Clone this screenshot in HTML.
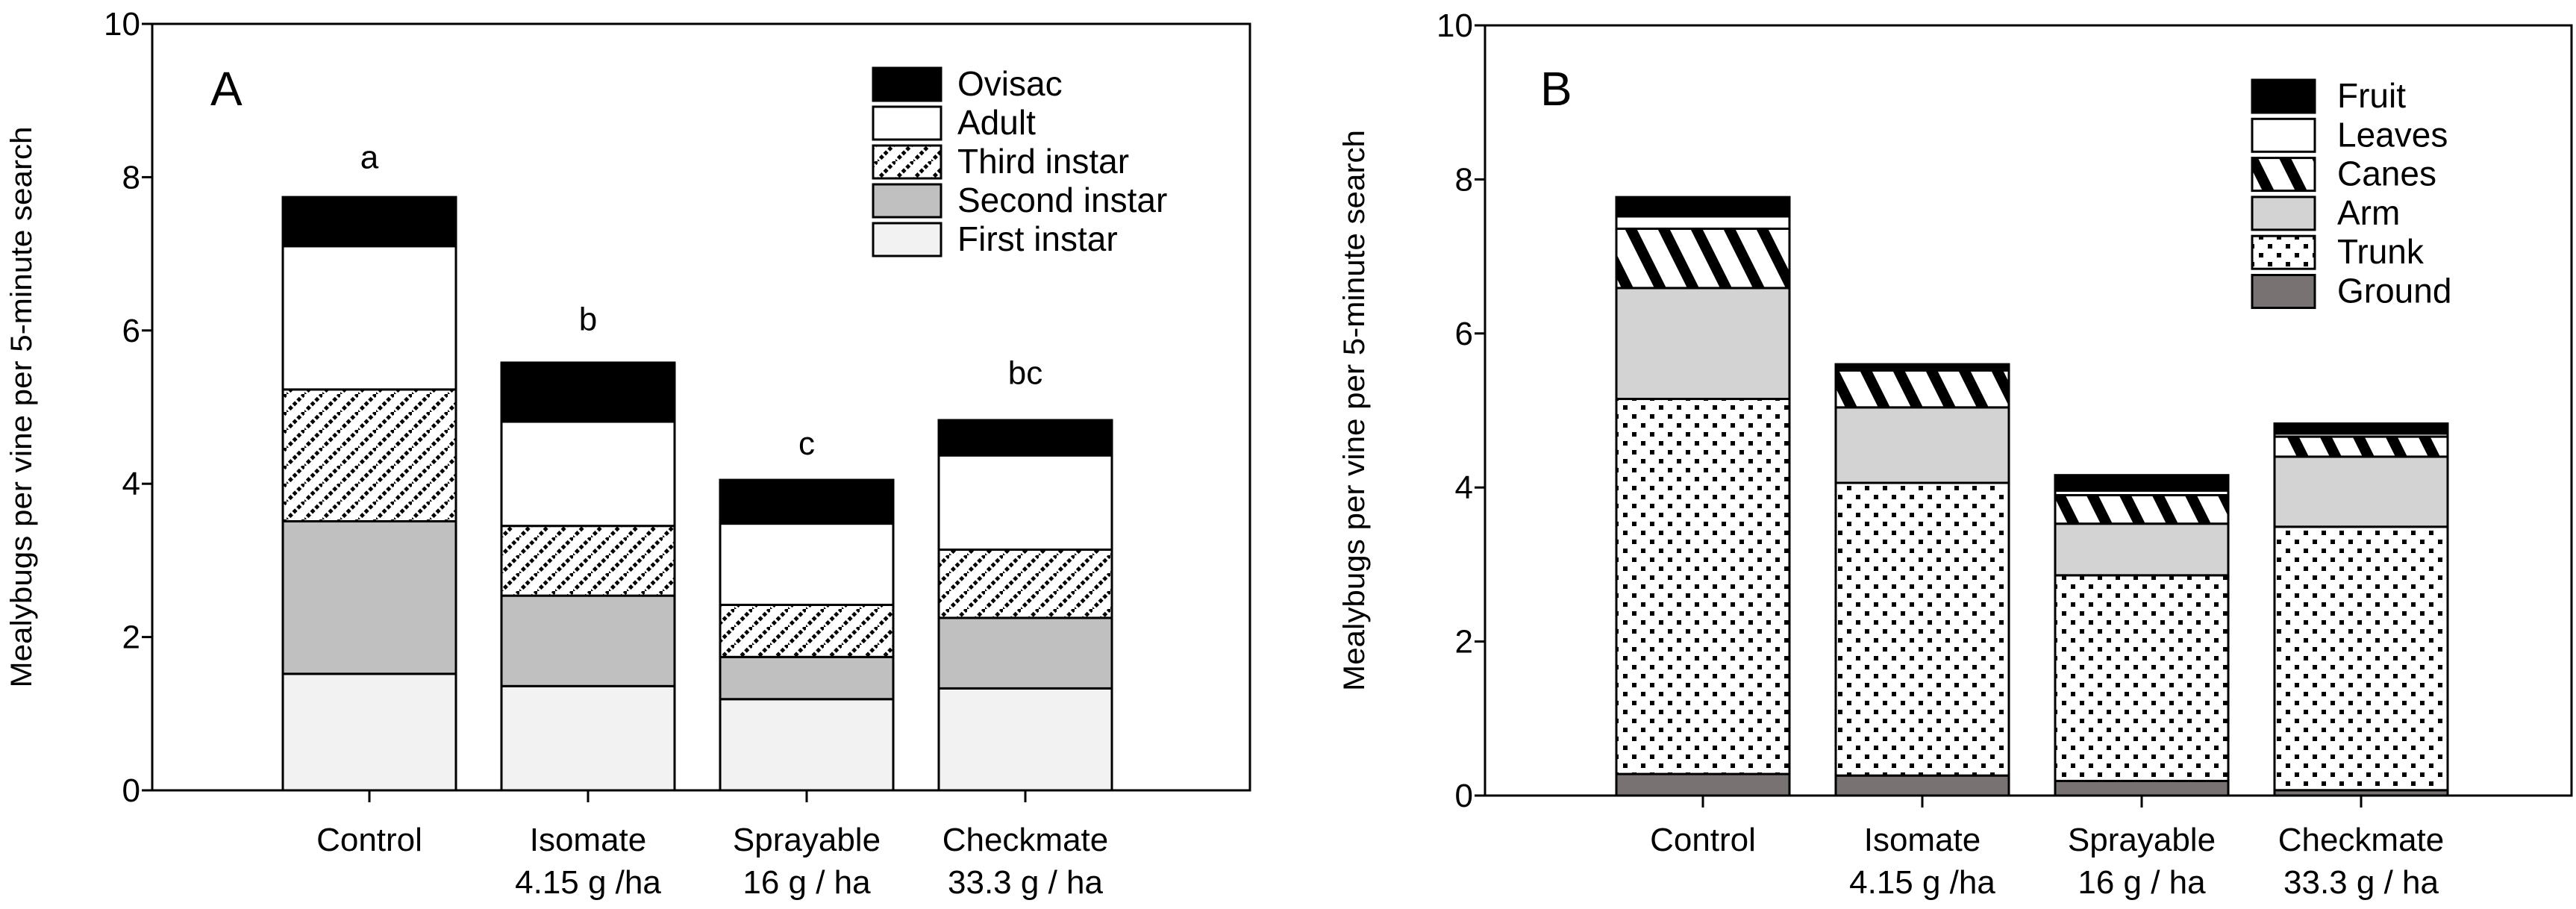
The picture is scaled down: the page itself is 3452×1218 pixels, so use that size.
<!DOCTYPE html>
<html><head><meta charset="utf-8"><style>html,body{margin:0;padding:0;background:#fff}svg{display:block}text{font-family:"Liberation Sans",Arial,sans-serif;fill:#000}</style></head>
<body>
<svg id="c" width="3452" height="1218" viewBox="0 0 3452 1218" xmlns="http://www.w3.org/2000/svg">
<defs>
<pattern id="p-third" width="24" height="24" patternUnits="userSpaceOnUse">
<rect width="24" height="24" fill="#fff"/>
<line x1="-2" y1="26" x2="26" y2="-2" stroke="#000" stroke-width="5" stroke-dasharray="5 3"/>
</pattern>
<pattern id="p-canes" width="44" height="88" patternUnits="userSpaceOnUse">
<rect width="44" height="88" fill="#fff"/>
<polygon points="0,0 16,0 60,88 44,88" fill="#000"/>
<polygon points="-44,0 -28,0 16,88 0,88" fill="#000"/>
</pattern>
<pattern id="p-trunk" width="24" height="24" patternUnits="userSpaceOnUse">
<rect width="24" height="24" fill="#fff"/>
<rect x="3" y="3" width="6" height="6" fill="#000"/>
<rect x="15" y="15" width="6" height="6" fill="#000"/>
</pattern>
</defs>
<g id="gA"></g>
<g id="gB"></g>
</svg>
<script>
const categories = ["Control","Isomate|4.15 g /ha","Sprayable|16 g / ha","Checkmate|33.3 g / ha"];
const yTicks = [0,2,4,6,8,10];
const stagesA = ["First instar","Second instar","Third instar","Adult","Ovisac"];
const firstInstar = [1.52,1.36,1.19,1.33];
const secondInstar = [1.99,1.18,0.55,0.92];
const thirdInstar = [1.72,0.91,0.68,0.89];
const adult = [1.87,1.36,1.06,1.23];
const ovisac = [0.64,0.77,0.57,0.46];
const lettersA = ["a","b","c","bc"];
const letterYA = [8.26,6.15,4.53,5.45];
const stagesB = ["Ground","Trunk","Arm","Canes","Leaves","Fruit"];
const ground = [0.28,0.26,0.19,0.07];
const trunk = [4.87,3.80,2.67,3.42];
const arm = [1.44,0.98,0.67,0.91];
const canes = [0.77,0.48,0.37,0.26];
const leaves = [0.16,0.03,0.06,0.04];
const fruit = [0.25,0.05,0.20,0.13];

const NS="http://www.w3.org/2000/svg";
function mk(p,t,a){const e=document.createElementNS(NS,t);for(const k in a)e.setAttribute(k,a[k]);p.appendChild(e);return e;}

function panel(g,cfg){
  const L=cfg.left,R=cfg.right,T=cfg.top,B=cfg.bottom;
  const y=v=>B-(v/10)*(B-T);
  const x=i=>cfg.centers0+i*cfg.step;
  for(let i=0;i<categories.length;i++){
    let cum=0;
    cfg.series.forEach((s,si)=>{
      const v=s.vals[i];
      const r=mk(g,'rect',{x:x(i)-cfg.bw/2,y:y(cum+v),width:cfg.bw,height:y(cum)-y(cum+v),fill:s.fill,stroke:'#000','stroke-width':3});
      
      
      cum+=v;
    });
  }
  const f=mk(g,'rect',{x:L,y:T,width:R-L,height:B-T,fill:'none',stroke:'#000','stroke-width':3});
  
  
  yTicks.forEach(t=>{
    mk(g,'line',{x1:L-14,x2:L,y1:y(t),y2:y(t),stroke:'#000','stroke-width':3});
    const tx=mk(g,'text',{x:L-16,y:y(t)+15,'text-anchor':'end','font-size':44});
    tx.textContent=t;
    
    
  });
  categories.forEach((c,i)=>{
    mk(g,'line',{x1:x(i),x2:x(i),y1:B,y2:B+16,stroke:'#000','stroke-width':3});
    c.split('|').forEach((ln,k)=>{
      const tx=mk(g,'text',{x:x(i),y:1140+k*57,'text-anchor':'middle','font-size':44});
      tx.textContent=ln;
      
      
    });
  });
  const yt=mk(g,'text',{x:0,y:0,'text-anchor':'middle','font-size':40,transform:`translate(${cfg.ytx},${(T+B)/2}) rotate(-90)`,textLength:752,lengthAdjust:'spacingAndGlyphs'});
  yt.textContent='Mealybugs per vine per 5-minute search';
  
  
  const pl=mk(g,'text',{x:cfg.lx,y:141,'font-size':64});
  pl.textContent=cfg.letter;
  
  
  const rev=cfg.series.slice().reverse();
  rev.forEach((s,k)=>{
    const ty=cfg.legTop+k*cfg.legStep;
    const r=mk(g,'rect',{x:cfg.legX,y:ty,width:cfg.legW,height:44,fill:s.fill,stroke:'#000','stroke-width':3});
    
    
    const tx=mk(g,'text',{x:cfg.legTX,y:ty+37,'font-size':46});
    tx.textContent=s.name;
    
    
  });
  if(cfg.letters){
    cfg.letters.forEach((l,i)=>{
      const tx=mk(g,'text',{x:x(i),y:y(cfg.letterY[i])+15,'text-anchor':'middle','font-size':44});
      tx.textContent=l;
      
      
    });
  }
}
panel(document.getElementById('gA'),{left:204,right:1675,top:32,bottom:1059,centers0:495,step:293,bw:232,ytx:42,letter:'A',lx:282,
  legX:1170,legW:91,legTX:1283,legTop:91,legStep:52,letters:lettersA,letterY:letterYA,
  series:[{name:stagesA[0],vals:firstInstar,fill:'#f2f2f2'},{name:stagesA[1],vals:secondInstar,fill:'#c0c0c0'},{name:stagesA[2],vals:thirdInstar,fill:'url(#p-third)'},{name:stagesA[3],vals:adult,fill:'#fff'},{name:stagesA[4],vals:ovisac,fill:'#000'}]});
panel(document.getElementById('gB'),{left:1990,right:3446,top:34,bottom:1066,centers0:2282,step:294,bw:232,ytx:1828,letter:'B',lx:2064,
  legX:3018,legW:84,legTX:3132,legTop:107,legStep:52.3,
  series:[{name:stagesB[0],vals:ground,fill:'#787272'},{name:stagesB[1],vals:trunk,fill:'url(#p-trunk)'},{name:stagesB[2],vals:arm,fill:'#d3d3d3'},{name:stagesB[3],vals:canes,fill:'url(#p-canes)'},{name:stagesB[4],vals:leaves,fill:'#fff'},{name:stagesB[5],vals:fruit,fill:'#000'}]});
</script>
</body></html>
